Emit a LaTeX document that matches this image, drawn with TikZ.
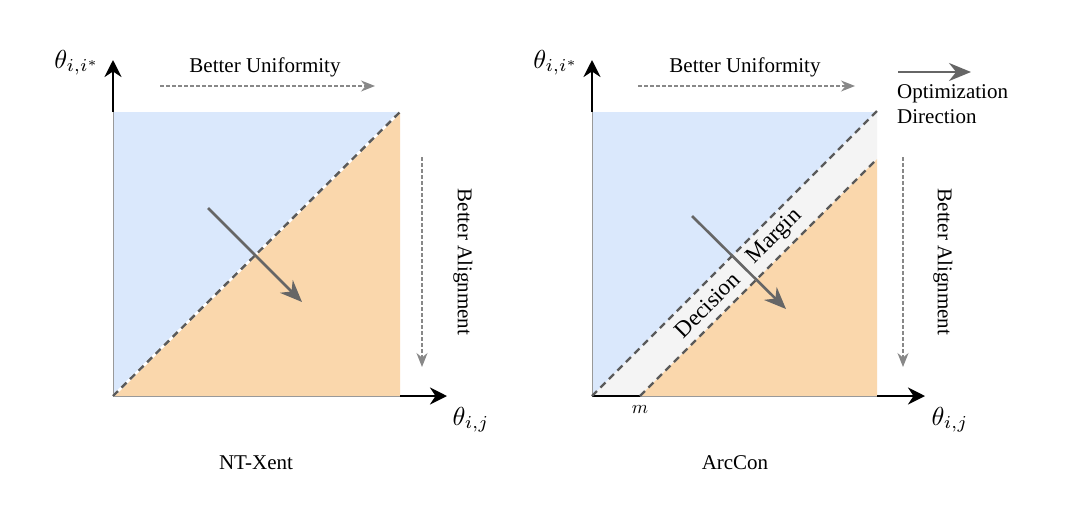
\documentclass[tikz,border=0pt]{standalone}
\usepackage{graphicx}
\usepackage{fontspec}
\setmainfont{Liberation Serif}
\usetikzlibrary{arrows.meta}
\definecolor{bluefill}{HTML}{DAE8FC}
\definecolor{orangefill}{HTML}{FAD7AC}
\definecolor{bandfill}{HTML}{F4F4F4}
\definecolor{arrgray}{HTML}{666666}
\definecolor{dgray}{HTML}{888888}
\definecolor{linegray}{HTML}{5A5A5A}
\definecolor{edgegray}{HTML}{999999}
\newcommand{\biglbl}[1]{\scalebox{2.6}{\fontsize{10}{12}\selectfont$#1$}}
\newcommand{\midlbl}[1]{\scalebox{1.85}{\fontsize{10}{12}\selectfont$#1$}}
\begin{document}
\begin{tikzpicture}[x=1pt,y=-1pt,
  txt/.style={font=\fontsize{21}{25}\selectfont, inner sep=0pt},
  bandtxt/.style={font=\fontsize{23}{27}\selectfont, inner sep=0pt, rotate=45},
  mathlbl/.style={inner sep=0pt},
  axisarrow/.style={line width=2.6pt, -{Stealth[length=17pt,width=17pt]}},
  dashedarrow/.style={draw=dgray, line width=1.2pt, dash pattern=on 3.5pt off 2.5pt, -{Stealth[length=14pt,width=11pt]}},
  optarrow/.style={draw=arrgray, line width=2.6pt, -{Stealth[length=22pt,width=18pt]}},
  boundary/.style={draw=linegray, line width=2.4pt, dash pattern=on 7pt off 5pt},
  sqedge/.style={draw=edgegray, line width=1pt}]
\useasboundingbox[fill=white] (0,0) rectangle (1080,512);

% ---------- left panel ----------
\coordinate (LBL) at (113,396);
\coordinate (LTL) at (113,112);
\coordinate (LTR) at (400,112);
\coordinate (LBR) at (400,396);
\fill[bluefill] (LBL) -- (LTL) -- (LTR) -- cycle;
\fill[orangefill] (LBL) -- (LTR) -- (LBR) -- cycle;
\draw[sqedge] (LTL) -- (LBL) -- (LBR);
\coordinate (LdA) at (113,396);
\coordinate (LdB) at (402,110);
\draw[white, line width=2.4pt] (LdA) -- (LdB);
\draw[boundary] (LdA) -- (LdB);
\coordinate (LyEnd) at (113,60);
\coordinate (LxEnd) at (447,396);
\draw[axisarrow] (LTL) -- (LyEnd);
\draw[axisarrow] (LBR) -- (LxEnd);
\node[mathlbl, anchor=base] (Lylab) at (77,68) {\biglbl{\theta_{i,i^*}}};
\node[mathlbl, anchor=base] (Lxlab) at (471,425) {\biglbl{\theta_{i,j}}};
\node[txt, anchor=base] (Lunif) at (265,72) {Better Uniformity};
\coordinate (LuA) at (160,86);
\coordinate (LuB) at (375,86);
\draw[dashedarrow] (LuA) -- (LuB);
\coordinate (LaA) at (422,157);
\coordinate (LaB) at (422,367);
\draw[dashedarrow] (LaA) -- (LaB);
\node[txt, rotate=-90] (Lalign) at (463,262) {Better Alignment};
\coordinate (LoA) at (208,208);
\coordinate (LoB) at (302,302);
\draw[optarrow] (LoA) -- (LoB);
\node[txt, anchor=base] (Lname) at (256,469) {NT-Xent};

% ---------- right panel ----------
\coordinate (RBL) at (592,396);
\coordinate (RTL) at (592,112);
\coordinate (RTR) at (877,112);
\coordinate (RBR) at (877,396);
\coordinate (Rm) at (640,396);
\coordinate (RupTop) at (876,112);
\coordinate (RloTop) at (877,159);
\fill[bluefill] (RBL) -- (RTL) -- (RupTop) -- cycle;
\fill[bandfill] (RBL) -- (RupTop) -- (RTR) -- (RloTop) -- (Rm) -- cycle;
\fill[orangefill] (Rm) -- (RloTop) -- (RBR) -- cycle;
\draw[sqedge] (RTL) -- (RBL) -- (RBR);
\draw[line width=2pt] (RBL) -- (Rm);
\coordinate (RuEnd) at (878,110);
\draw[boundary] (RBL) -- (RuEnd);
\draw[boundary] (Rm) -- (RloTop);
\coordinate (RyEnd) at (592,60);
\coordinate (RxEnd) at (925,396);
\draw[axisarrow] (RTL) -- (RyEnd);
\draw[axisarrow] (RBR) -- (RxEnd);
\node[mathlbl, anchor=base] (Rylab) at (556,68) {\biglbl{\theta_{i,i^*}}};
\node[mathlbl, anchor=base] (Rxlab) at (950,425) {\biglbl{\theta_{i,j}}};
\node[mathlbl, anchor=base] (Rmlab) at (640,413) {\midlbl{m}};
\node[txt, anchor=base] (Runif) at (745,72) {Better Uniformity};
\coordinate (RuA) at (638,86);
\coordinate (RuB) at (855,86);
\draw[dashedarrow] (RuA) -- (RuB);
\coordinate (RaA) at (903,157);
\coordinate (RaB) at (903,367);
\draw[dashedarrow] (RaA) -- (RaB);
\node[txt, rotate=-90] (Ralign) at (943,262) {Better Alignment};
\coordinate (RoA) at (692,216);
\coordinate (RoB) at (786,309);
\draw[optarrow] (RoA) -- (RoB);
\node[bandtxt] (Rdec) at (707,305) {Decision};
\node[bandtxt] (Rmar) at (775,237) {Margin};
\node[txt, anchor=base] (Rname) at (735,469) {ArcCon};

% ---------- legend ----------
\coordinate (GA) at (898,72);
\coordinate (GB) at (971,72);
\draw[optarrow] (GA) -- (GB);
\node[txt, anchor=base west] (Gl1) at (897,98) {Optimization};
\node[txt, anchor=base west] (Gl2) at (897,123) {Direction};
\end{tikzpicture}
\end{document}
